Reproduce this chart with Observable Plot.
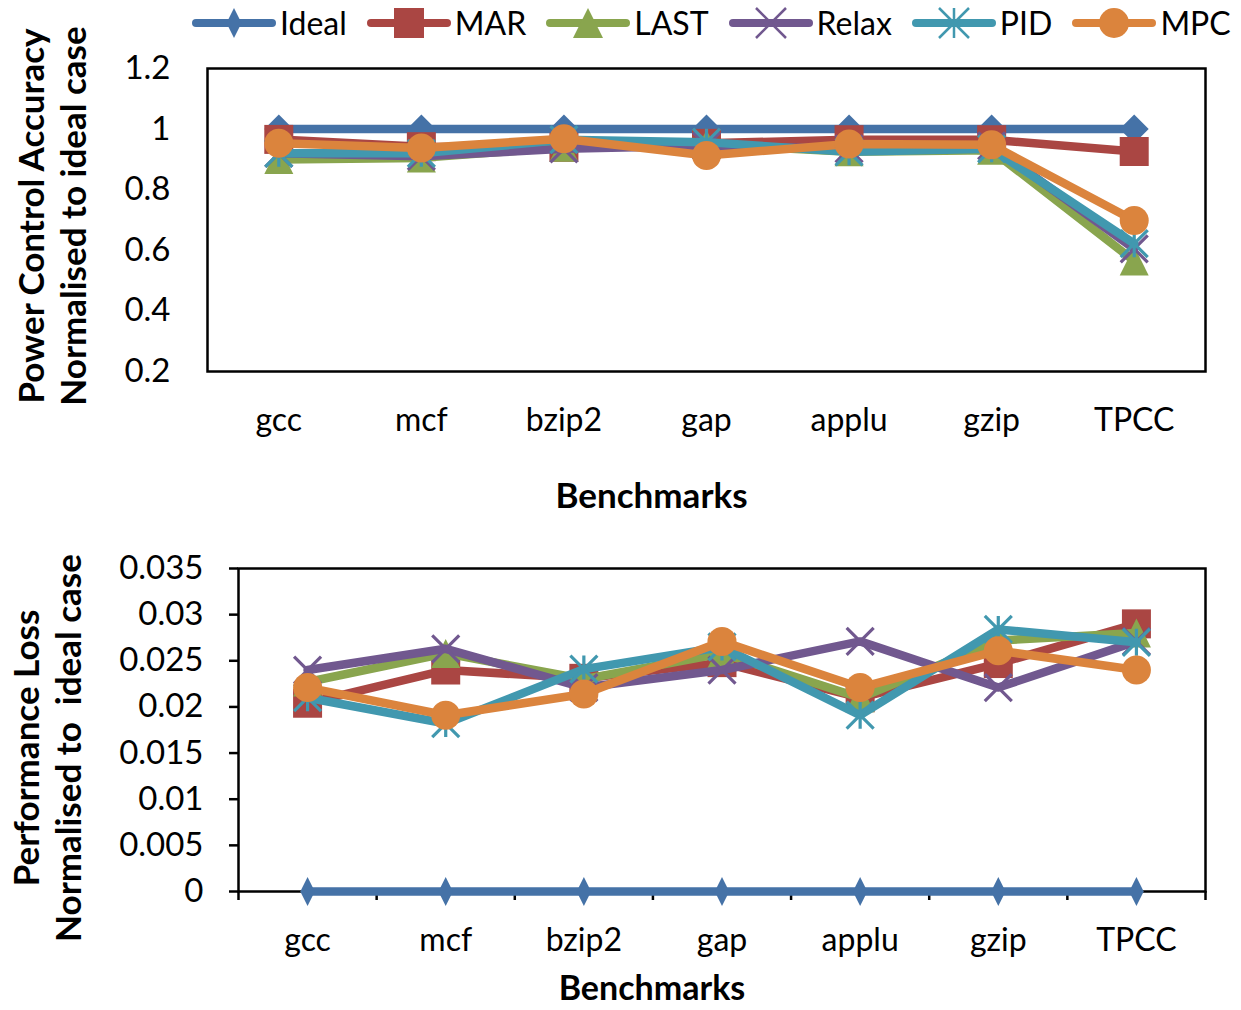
<!DOCTYPE html>
<html><head><meta charset="utf-8">
<script src="https://cdn.jsdelivr.net/npm/d3@7"></script>
<script src="https://cdn.jsdelivr.net/npm/@observablehq/plot@0.6"></script>
<style>
body{margin:0;background:#fff;font-family:Lato,"Open Sans",sans-serif;}
#wrap{position:relative;width:1241px;height:1010px;overflow:hidden;background:#fff;}
#wrap svg text{white-space:pre;}
</style></head><body><div id="wrap"></div>
<script>
const benchmarks = ["gcc","mcf","bzip2","gap","applu","gzip","TPCC"];
const seriesNames = ["Ideal","MAR","LAST","Relax","PID","MPC"];
const seriesColors = ["#4572A7","#AA4643","#89A54E","#71588F","#4198AF","#DB843D"];

// Top chart: Power control accuracy
const accIdeal = [1, 1, 1, 1, 1, 1, 1];
const accMAR   = [0.966, 0.942, 0.940, 0.953, 0.965, 0.965, 0.926];
const accLAST  = [0.900, 0.905, 0.940, 0.950, 0.925, 0.930, 0.565];
const accRelax = [0.920, 0.910, 0.935, 0.945, 0.935, 0.945, 0.605];
const accPID   = [0.920, 0.920, 0.965, 0.957, 0.925, 0.935, 0.622];
const accMPC   = [0.953, 0.938, 0.968, 0.913, 0.951, 0.948, 0.698];
const accTicks = [0.2, 0.4, 0.6, 0.8, 1, 1.2];
const accTickLabels = ["0.2", "0.4", "0.6", "0.8", "1", "1.2"];

// Bottom chart: Performance loss
const lossIdeal = [0, 0, 0, 0, 0, 0, 0];
const lossMAR   = [0.0204, 0.0240, 0.0231, 0.0248, 0.0210, 0.0247, 0.0290];
const lossLAST  = [0.0227, 0.0258, 0.0230, 0.0258, 0.0210, 0.0272, 0.0280];
const lossRelax = [0.0240, 0.0263, 0.0221, 0.0240, 0.0271, 0.0221, 0.0271];
const lossPID   = [0.0210, 0.0182, 0.0241, 0.0265, 0.0191, 0.0284, 0.0270];
const lossMPC   = [0.0221, 0.0191, 0.0214, 0.0271, 0.0221, 0.0261, 0.0240];
const lossTicks = [0, 0.005, 0.01, 0.015, 0.02, 0.025, 0.03, 0.035];
const lossTickLabels = ["0", "0.005", "0.01", "0.015", "0.02", "0.025", "0.03", "0.035"];

const accSeries = [accIdeal, accMAR, accLAST, accRelax, accPID, accMPC];
const lossSeries = [lossIdeal, lossMAR, lossLAST, lossRelax, lossPID, lossMPC];

// custom marker symbols (h = half size in px)
function sym(fn){ return {draw(ctx, size){ const h = Math.sqrt(size / Math.PI); fn(ctx, h); }}; }
const symDiamond = sym((c,h)=>{c.moveTo(0,-h);c.lineTo(h,0);c.lineTo(0,h);c.lineTo(-h,0);c.closePath();});
const symDiamondNarrow = sym((c,h)=>{c.moveTo(0,-h);c.lineTo(h*0.5,0);c.lineTo(0,h);c.lineTo(-h*0.5,0);c.closePath();});
const symSquare = sym((c,h)=>{c.rect(-h,-h,2*h,2*h);});
const symTriangle = sym((c,h)=>{c.moveTo(0,-h);c.lineTo(h,h);c.lineTo(-h,h);c.closePath();});
const symX = sym((c,h)=>{c.moveTo(-h,-h);c.lineTo(h,h);c.moveTo(h,-h);c.lineTo(-h,h);});
const symStar = sym((c,h)=>{c.moveTo(-h,-h);c.lineTo(h,h);c.moveTo(h,-h);c.lineTo(-h,h);c.moveTo(0,-h);c.lineTo(0,h);});
const symCircle = sym((c,h)=>{c.moveTo(h,0);c.arc(0,0,h,0,2*Math.PI);});
const strokeOnly = [false,false,false,true,true,false];

const catPos = benchmarks.map((b,i)=>i+0.5);
const boundaries = d3.range(benchmarks.length + 1);
const catLabel = p => benchmarks[Math.round(p - 0.5)] ?? "";

function seriesMarks(seriesVals, syms){
  return seriesVals.flatMap((vals, s) => {
    const rows = vals.map((v,i)=>({pos: catPos[i], v}));
    const dotOpts = strokeOnly[s]
      ? {x:"pos", y:"v", r:13.5, symbol: syms[s], stroke: seriesColors[s], strokeWidth: 3.2, fill:"none"}
      : {x:"pos", y:"v", r:14.5, symbol: syms[s], fill: seriesColors[s], stroke:"none"};
    return [
      Plot.line(rows, {x:"pos", y:"v", stroke: seriesColors[s], strokeWidth: 8.5}),
      Plot.dot(rows, dotOpts)
    ];
  });
}

const FONT = "Lato, 'Open Sans', sans-serif";
const wrap = d3.select("#wrap");

// Legend
const legend = wrap.append("div")
  .style("position","absolute").style("left","191px").style("top","0px")
  .style("height","45px").style("display","flex").style("align-items","center")
  .style("gap","19px").style("font-family",FONT).style("font-size","32px").style("color","#000");
const legendSyms = [symDiamondNarrow, symSquare, symTriangle, symX, symStar, symCircle];
seriesNames.forEach((name, s) => {
  const item = legend.append("div").style("display","flex").style("align-items","center");
  const svg = item.append("svg").attr("width",86).attr("height",44);
  svg.append("line").attr("x1",5).attr("x2",81).attr("y1",22).attr("y2",22)
    .attr("stroke",seriesColors[s]).attr("stroke-width",8).attr("stroke-linecap","round");
  const p = svg.append("path").attr("transform","translate(43,22)")
    .attr("d", d3.symbol(legendSyms[s], Math.PI*15*15)());
  if (strokeOnly[s]) p.attr("fill","none").attr("stroke",seriesColors[s]).attr("stroke-width",2.5);
  else p.attr("fill",seriesColors[s]);
  item.append("span").text(name).style("margin-left","3px").style("line-height","1");
});

// Top chart
const topPlot = Plot.plot({
  width: 1241, height: 475,
  marginLeft: 207, marginRight: 36, marginTop: 23, marginBottom: 149,
  style: {fontFamily: FONT, fontSize: "32px", color: "#000", background: "#fff", overflow: "visible"},
  x: {domain: [0, 7], axis: null},
  y: {domain: [0.2, 1.2], axis: null},
  marks: [
    Plot.axisY({ticks: accTicks, tickSize: 0, tickPadding: 37, fontSize: 33,
      tickFormat: d => accTickLabels[accTicks.indexOf(d)], label: null}),
    Plot.axisX({ticks: catPos, tickSize: 0, tickPadding: 37, fontSize: 32,
      tickFormat: catLabel, label: null}),
    Plot.frame({stroke: "#000", strokeWidth: 2.5}),
    ...seriesMarks(accSeries, [symDiamond, symSquare, symTriangle, symX, symStar, symCircle]),
    Plot.text(["Benchmarks"], {frameAnchor: "bottom", dx: -55, dy: 125, lineAnchor: "middle",
      fontWeight: "bold", fontSize: 35, fill: "#000"}),
    Plot.text(["Power Control Accuracy\nNormalised to ideal case"], {frameAnchor: "left", rotate: -90,
      textAnchor: "middle", dx: -156, dy: -4, lineAnchor: "middle", lineHeight: 1.2,
      fontWeight: "bold", fontSize: 35, fill: "#000"})
  ]
});
d3.select(topPlot).style("position","absolute").style("left","0px").style("top","45px");
wrap.node().appendChild(topPlot);

// Bottom chart
const botPlot = Plot.plot({
  width: 1241, height: 490,
  marginLeft: 238, marginRight: 36, marginTop: 48, marginBottom: 119,
  style: {fontFamily: FONT, fontSize: "32px", color: "#000", background: "#fff", overflow: "visible"},
  x: {domain: [0, 7], axis: null},
  y: {domain: [0, 0.035], axis: null},
  marks: [
    Plot.axisY({ticks: lossTicks, tickSize: 9, tickPadding: 26, fontSize: 33, strokeWidth: 2.5,
      tickFormat: d => lossTickLabels[lossTicks.indexOf(d)], label: null}),
    Plot.axisX({ticks: boundaries, tickSize: 9, strokeWidth: 2.5, tickFormat: () => "", label: null}),
    Plot.axisX({ticks: catPos, tickSize: 0, tickPadding: 37, fontSize: 32,
      tickFormat: catLabel, label: null}),
    Plot.frame({stroke: "#000", strokeWidth: 2.5}),
    ...seriesMarks(lossSeries, [symDiamondNarrow, symSquare, symTriangle, symX, symStar, symCircle]),
    Plot.text(["Benchmarks"], {frameAnchor: "bottom", dx: -70, dy: 98, lineAnchor: "middle",
      fontWeight: "bold", fontSize: 34, fill: "#000"}),
    Plot.text(["Performance Loss\nNormalised to  ideal case"], {frameAnchor: "left", rotate: -90,
      textAnchor: "middle", dx: -192, dy: 18, lineAnchor: "middle", lineHeight: 1.2,
      fontWeight: "bold", fontSize: 35, fill: "#000"})
  ]
});
d3.select(botPlot).style("position","absolute").style("left","0px").style("top","520px");
wrap.node().appendChild(botPlot);
</script>
</body></html>
